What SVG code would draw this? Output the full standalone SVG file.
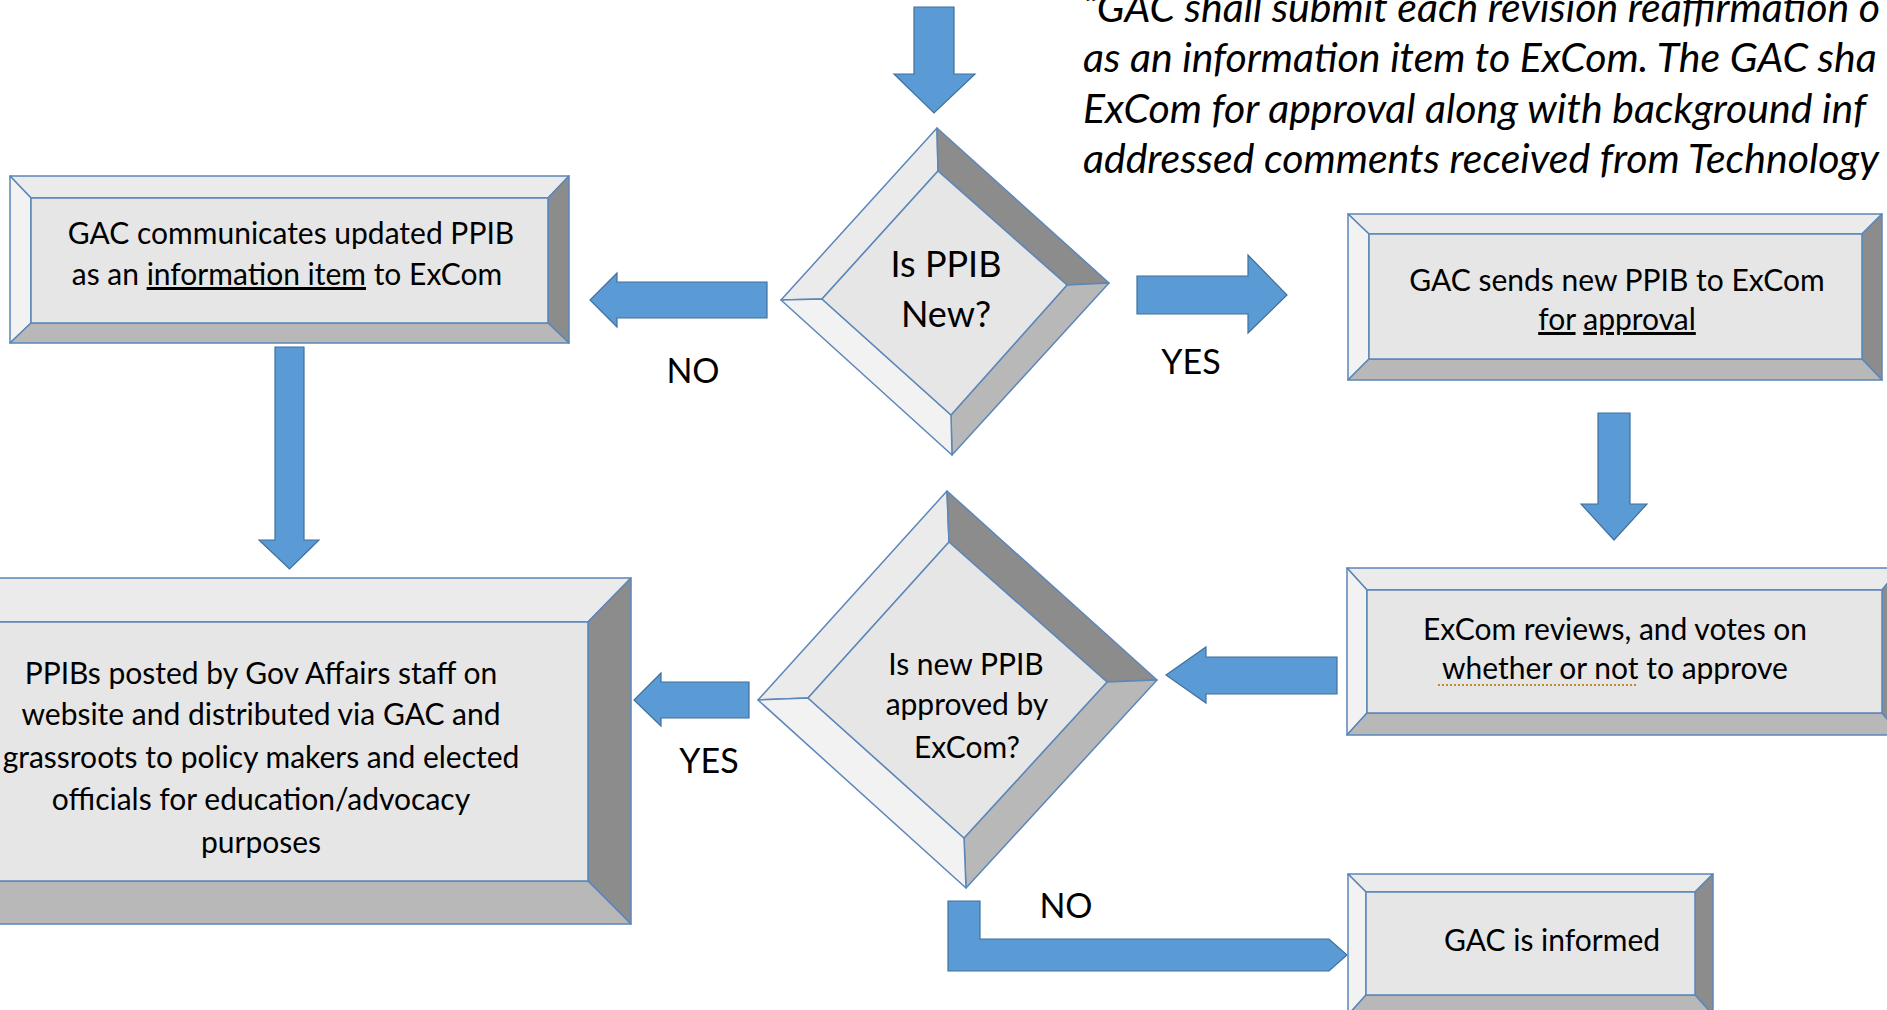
<svg xmlns="http://www.w3.org/2000/svg" width="1887" height="1010" viewBox="0 0 1887 1010">
<style>
  .face{stroke:#5b87b9;stroke-width:1.5;stroke-linejoin:round}
  .c{fill:#e6e6e6}.t{fill:#ebebeb}.l{fill:#f2f2f2}.r{fill:#8c8c8c}.b{fill:#b8b8b8}
  .arrow{fill:#5b9bd5;stroke:#41719c;stroke-width:1.2;stroke-linejoin:miter}
  text{font-family:Lato,"Liberation Sans",sans-serif;fill:#000}
  .body{font-size:30px;text-anchor:middle}
  .big{font-size:36px;text-anchor:middle}
  .lbl{font-size:34px;text-anchor:middle}
  .it{font-size:41px;font-style:italic}
  .u{text-decoration:underline}
</style>
<rect width="1887" height="1010" fill="#ffffff"/>

<g id="quote">
  <text class="it" x="1083" y="22">“GAC shall submit each revision reaffirmation o</text>
  <text class="it" x="1083" y="72">as an information item to ExCom. The GAC sha</text>
  <text class="it" x="1083" y="123">ExCom for approval along with background inf</text>
  <text class="it" x="1083" y="173">addressed comments received from Technology</text>
</g>

<g id="connectors">
  <polygon class="arrow" points="914,7 954,7 954,74 975,74 934,113 894,74 914,74"/>
  <polygon class="arrow" points="767,282 767,318 617,318 617,327 590,300 617,273 617,282"/>
  <polygon class="arrow" points="1137,276 1248,276 1248,255 1287,295 1248,333 1248,314 1137,314"/>
  <polygon class="arrow" points="275,347 304,347 304,540 319,540 289.5,569 259,540 275,540"/>
  <polygon class="arrow" points="1598,413 1630,413 1630,504 1647,504 1614,540 1581,504 1598,504"/>
  <polygon class="arrow" points="1337,657 1337,694 1206,694 1206,703 1166,675 1206,647 1206,657"/>
  <polygon class="arrow" points="749,682 749,718 661,718 661,726 634,700 661,673 661,682"/>
  <polygon class="arrow" points="948,901 980,901 980,939 1329,939 1347,955 1329,971 948,971"/>
  <text class="lbl" x="693" y="383">NO</text>
  <text class="lbl" x="1191" y="374">YES</text>
  <text class="lbl" x="709" y="773">YES</text>
  <text class="lbl" x="1066" y="918">NO</text>
</g>

<g id="box-communicates">
  <polygon class="face t" points="10,176 569,176 548,198 31,198"/>
  <polygon class="face l" points="10,176 31,198 31,323 10,343"/>
  <polygon class="face r" points="569,176 569,343 548,323 548,198"/>
  <polygon class="face b" points="10,343 31,323 548,323 569,343"/>
  <rect class="face c" x="31" y="198" width="517" height="125"/>
  <text class="body" x="291" y="244">GAC communicates updated PPIB</text>
  <text class="body" x="287" y="285">as an <tspan class="u">information item</tspan> to ExCom</text>
</g>

<g id="decision-new">
  <polygon class="face t" points="937,128 938,171 822,299 781,300"/>
  <polygon class="face r" points="937,128 1109,283 1067,285 938,171"/>
  <polygon class="face b" points="1109,283 952,455 951,415 1067,285"/>
  <polygon class="face l" points="781,300 822,299 951,415 952,455"/>
  <polygon class="face c" points="938,171 1067,285 951,415 822,299"/>
  <text class="big" x="946" y="277">Is PPIB</text>
  <text class="big" x="946" y="327">New?</text>
</g>

<g id="box-sends">
  <polygon class="face t" points="1348,214 1882,214 1862,234 1369,234"/>
  <polygon class="face l" points="1348,214 1369,234 1369,359 1348,380"/>
  <polygon class="face r" points="1882,214 1882,380 1862,359 1862,234"/>
  <polygon class="face b" points="1348,380 1369,359 1862,359 1882,380"/>
  <rect class="face c" x="1369" y="234" width="493" height="125"/>
  <text class="body" x="1617" y="291">GAC sends new PPIB to ExCom</text>
  <text class="body" x="1617" y="330"><tspan class="u">for</tspan> <tspan class="u">approval</tspan></text>
</g>

<g id="box-reviews">
  <polygon class="face t" points="1347,568 1900,568 1882,590 1367,590"/>
  <polygon class="face l" points="1347,568 1367,590 1367,713 1347,735"/>
  <polygon class="face r" points="1900,568 1900,735 1882,713 1882,590"/>
  <polygon class="face b" points="1347,735 1367,713 1882,713 1900,735"/>
  <rect class="face c" x="1367" y="590" width="515" height="123"/>
  <text class="body" x="1615" y="640">ExCom reviews, and votes on</text>
  <text class="body" x="1615" y="679">whether or not to approve</text>
  <line x1="1438" y1="685" x2="1638" y2="685" stroke="#c08a2e" stroke-width="2" stroke-dasharray="2,2"/>
</g>

<g id="decision-approved">
  <polygon class="face t" points="947,491 949,542 808,698 758,700"/>
  <polygon class="face r" points="947,491 1157,680 1107,682 949,542"/>
  <polygon class="face b" points="1157,680 966,888 964,838 1107,682"/>
  <polygon class="face l" points="758,700 808,698 964,838 966,888"/>
  <polygon class="face c" points="949,542 1107,682 964,838 808,698"/>
  <text class="body" x="966" y="675">Is new PPIB</text>
  <text class="body" x="967" y="715">approved by</text>
  <text class="body" x="967" y="758">ExCom?</text>
</g>

<g id="box-posted">
  <polygon class="face t" points="-109,578 631,578 588,622 -65,622"/>
  <polygon class="face r" points="631,578 631,924 588,881 588,622"/>
  <polygon class="face b" points="-109,924 -65,881 588,881 631,924"/>
  <rect class="face c" x="-65" y="622" width="653" height="259"/>
  <text class="body" x="261" y="684">PPIBs posted by Gov Affairs staff on</text>
  <text class="body" x="261" y="725">website and distributed via GAC and</text>
  <text class="body" x="261" y="768">grassroots to policy makers and elected</text>
  <text class="body" x="261" y="810">officials for education/advocacy</text>
  <text class="body" x="261" y="853">purposes</text>
</g>

<g id="box-informed">
  <polygon class="face t" points="1348,874 1713,874 1695,892 1366,892"/>
  <polygon class="face l" points="1348,874 1366,892 1366,995 1348,1015"/>
  <polygon class="face r" points="1713,874 1713,1015 1695,995 1695,892"/>
  <polygon class="face b" points="1348,1015 1366,995 1695,995 1713,1015"/>
  <rect class="face c" x="1366" y="892" width="329" height="103"/>
  <text class="body" x="1552" y="951">GAC is informed</text>
</g>
</svg>
